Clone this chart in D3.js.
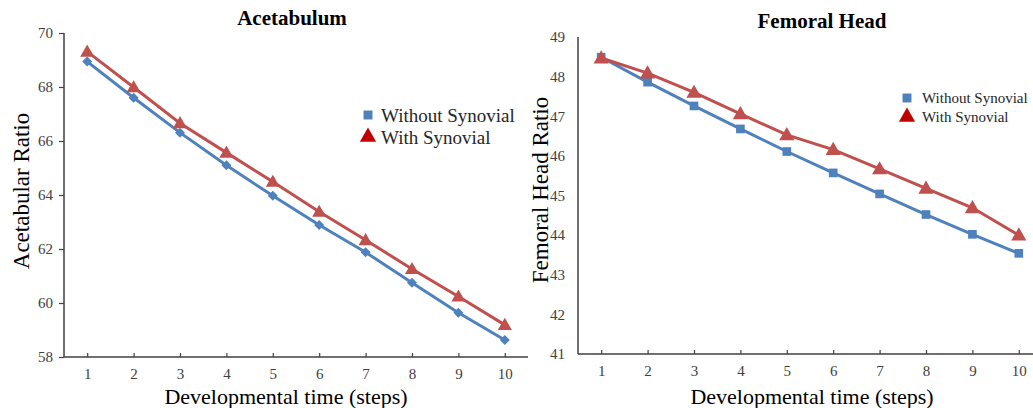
<!DOCTYPE html>
<html>
<head>
<meta charset="utf-8">
<script src="https://cdn.jsdelivr.net/npm/d3@7"></script>
<style>
  html, body { margin: 0; padding: 0; background: #fff; }
  svg { display: block; }
</style>
</head>
<body>
<svg id="chart" width="1033" height="408"></svg>
<script>
// Developmental steps shared by both panels
const steps = [1, 2, 3, 4, 5, 6, 7, 8, 9, 10];
const seriesNames = ["Without Synovial", "With Synovial"];

// Acetabulum panel
const acetabularTicks = [58, 60, 62, 64, 66, 68, 70];
const acetabularWithout = [68.94, 67.60, 66.31, 65.10, 63.97, 62.89, 61.88, 60.75, 59.64, 58.63];
const acetabularWith    = [69.31, 67.99, 66.66, 65.57, 64.49, 63.38, 62.33, 61.26, 60.24, 59.19];

// Femoral head panel
const femoralTicks = [41, 42, 43, 44, 45, 46, 47, 48, 49];
const femoralWithout = [48.49, 47.86, 47.26, 46.68, 46.11, 45.57, 45.04, 44.52, 44.02, 43.54];
const femoralWith    = [48.47, 48.09, 47.60, 47.06, 46.53, 46.16, 45.67, 45.18, 44.69, 44.00];

const BLUE = "#4f81bd";
const RED = "#c0504d";
const DARK_RED = "#c00000";
const AXIS = "#404040";
const FONT = "'Liberation Serif', 'Times New Roman', serif";

const svg = d3.select("#chart");

function drawPanel(cfg) {
  const g = svg.append("g");
  const x = d3.scaleLinear().domain([0.5, 10.5]).range([cfg.left, cfg.left + 464]);
  const y = d3.scaleLinear().domain([cfg.ticks[0], cfg.ticks[cfg.ticks.length - 1]])
    .range([cfg.bottom, cfg.top]);

  // y axis
  const yAxis = g.append("g")
    .attr("transform", `translate(${cfg.left},0)`)
    .call(d3.axisLeft(y).tickValues(cfg.ticks).tickFormat(d3.format("d"))
      .tickSize(cfg.yTickSize).tickPadding(cfg.yPad));
  yAxis.select(".domain").attr("stroke", AXIS).attr("stroke-width", 1.5)
    .attr("d", `M0,${cfg.top}V${cfg.bottom}`);
  yAxis.selectAll(".tick line").attr("stroke", AXIS).attr("stroke-width", 1.2);
  yAxis.selectAll(".tick text").attr("fill", "#404040")
    .style("font-family", FONT).style("font-size", "15px");

  // x axis (ticks point into the plot)
  const xAxis = g.append("g")
    .attr("transform", `translate(0,${cfg.bottom})`)
    .call(d3.axisBottom(x).tickValues(steps).tickFormat(d3.format("d"))
      .tickSizeInner(-4).tickSizeOuter(0).tickPadding(11));
  xAxis.select(".domain").attr("stroke", AXIS).attr("stroke-width", 1.5)
    .attr("d", `M${cfg.left},0H${cfg.left + 464}`);
  xAxis.selectAll(".tick line").attr("stroke", AXIS).attr("stroke-width", 1.2);
  xAxis.selectAll(".tick text").attr("fill", "#404040")
    .style("font-family", FONT).style("font-size", "15px");

  // titles
  g.append("text")
    .attr("x", cfg.titleX).attr("y", cfg.titleY)
    .attr("text-anchor", "middle")
    .style("font-family", FONT).style("font-weight", "bold").style("font-size", "21px")
    .text(cfg.title);
  g.append("text")
    .attr("x", cfg.xTitleX).attr("y", 404)
    .attr("text-anchor", "middle")
    .style("font-family", FONT).style("font-size", "22px")
    .text("Developmental time (steps)");
  g.append("text")
    .attr("transform", `translate(${cfg.yTitleX},${cfg.yTitleY}) rotate(-90)`)
    .attr("text-anchor", "middle")
    .style("font-family", FONT).style("font-size", "23px")
    .text(cfg.yTitle);

  const line = d3.line().x((d, i) => x(steps[i])).y(d => y(d));

  // Without synovial
  g.append("path").datum(cfg.without)
    .attr("fill", "none").attr("stroke", BLUE).attr("stroke-width", 3)
    .attr("d", line);
  // With synovial
  g.append("path").datum(cfg.with)
    .attr("fill", "none").attr("stroke", RED).attr("stroke-width", 3)
    .attr("d", line);

  g.selectAll(".m-without").data(cfg.without).enter().append("path")
    .attr("transform", (d, i) => `translate(${x(steps[i])},${y(d)}) rotate(${cfg.withoutRotate})`)
    .attr("d", d3.symbol().type(d3.symbolSquare).size(cfg.withoutSize))
    .attr("fill", BLUE);
  g.selectAll(".m-with").data(cfg.with).enter().append("path")
    .attr("transform", (d, i) => `translate(${x(steps[i])},${y(d) + 1})`)
    .attr("d", d3.symbol().type(d3.symbolTriangle).size(cfg.withSize))
    .attr("fill", RED);

  // legend
  const lg = g.append("g").attr("transform", `translate(${cfg.legX},${cfg.legY})`);
  lg.append("path").attr("d", d3.symbol().type(d3.symbolSquare).size(cfg.legSquare))
    .attr("fill", BLUE);
  lg.append("path").attr("transform", `translate(0,${cfg.legGap})`)
    .attr("d", d3.symbol().type(d3.symbolTriangle).size(cfg.legTri))
    .attr("fill", DARK_RED);
  lg.selectAll("text").data(seriesNames).enter().append("text")
    .attr("x", cfg.legTextDx).attr("y", (d, i) => i * cfg.legGap)
    .attr("dy", "0.35em")
    .attr("fill", "#262626")
    .style("font-family", FONT).style("font-size", cfg.legFont + "px")
    .text(d => d);
}

drawPanel({
  title: "Acetabulum", titleX: 292, titleY: 25,
  yTitle: "Acetabular Ratio", yTitleX: 29, yTitleY: 191,
  xTitleX: 286,
  ticks: acetabularTicks, without: acetabularWithout, with: acetabularWith,
  left: 64, top: 33, bottom: 357, yTickSize: 5, yPad: 6,
  withoutRotate: 45, withoutSize: 50, withSize: 85,
  legX: 368, legY: 115, legGap: 22, legTextDx: 13, legFont: 19,
  legSquare: 80, legTri: 115
});

drawPanel({
  title: "Femoral Head", titleX: 822, titleY: 28,
  yTitle: "Femoral Head Ratio", yTitleX: 548, yTitleY: 190,
  xTitleX: 812,
  ticks: femoralTicks, without: femoralWithout, with: femoralWith,
  left: 578, top: 37, bottom: 354, yTickSize: 0, yPad: 13,
  withoutRotate: 0, withoutSize: 75, withSize: 100,
  legX: 907, legY: 98, legGap: 19, legTextDx: 15, legFont: 15,
  legSquare: 80, legTri: 115
});
</script>
</body>
</html>
